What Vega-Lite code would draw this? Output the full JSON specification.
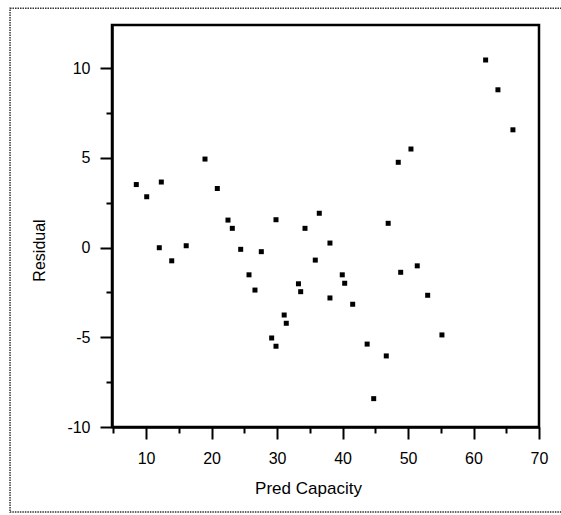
{
  "$schema": "https://vega.github.io/schema/vega-lite/v6.json",
  "autosize": {"type": "none"},
  "width": 427,
  "height": 402,
  "padding": {"left": 112, "top": 25, "right": 22, "bottom": 88},
  "background": "white",
  "config": {
    "view": {"stroke": "#000", "strokeWidth": 2.5},
    "font": "Liberation Sans"
  },
  "title": {
    "text": "Residual by Pred Capacity",
    "fontSize": 24,
    "fontWeight": "normal",
    "color": "#000",
    "anchor": "start",
    "frame": "group",
    "dx": 37,
    "offset": 3,
    "baseline": "bottom"
  },
  "resolve": {"axis": {"x": "independent", "y": "independent"}},
  "layer": [
    {
      "data": {"values": [{}]},
      "mark": {"type": "rect", "fill": null, "stroke": "#333", "strokeWidth": 1.5, "strokeDash": [1.5, 1], "clip": false},
      "encoding": {
        "x": {"datum": -10.77, "type": "quantitative", "scale": {"domain": [4.8, 70], "nice": false, "zero": false}, "axis": null},
        "x2": {"datum": 90},
        "y": {"datum": 13.34, "type": "quantitative", "scale": {"domain": [-10, 12.4], "nice": false, "zero": false}, "axis": null},
        "y2": {"datum": -14.74}
      }
    },
    {
      "data": {
        "values": [
          {"pred": 8.51, "resid": 3.51},
          {"pred": 10.10, "resid": 2.83},
          {"pred": 12.33, "resid": 3.65},
          {"pred": 12.02, "resid": -0.01},
          {"pred": 13.92, "resid": -0.74},
          {"pred": 16.13, "resid": 0.10},
          {"pred": 19.00, "resid": 4.93},
          {"pred": 20.88, "resid": 3.29},
          {"pred": 22.51, "resid": 1.53},
          {"pred": 23.17, "resid": 1.07},
          {"pred": 24.45, "resid": -0.10},
          {"pred": 25.72, "resid": -1.52},
          {"pred": 26.63, "resid": -2.37},
          {"pred": 27.60, "resid": -0.23},
          {"pred": 29.84, "resid": 1.55},
          {"pred": 29.18, "resid": -5.04},
          {"pred": 29.84, "resid": -5.50},
          {"pred": 31.09, "resid": -3.76},
          {"pred": 31.41, "resid": -4.22},
          {"pred": 33.27, "resid": -2.02},
          {"pred": 33.61, "resid": -2.46},
          {"pred": 34.27, "resid": 1.07},
          {"pred": 35.84, "resid": -0.70},
          {"pred": 36.45, "resid": 1.91},
          {"pred": 38.08, "resid": 0.25},
          {"pred": 38.08, "resid": -2.81},
          {"pred": 39.96, "resid": -1.52},
          {"pred": 40.33, "resid": -1.99},
          {"pred": 41.55, "resid": -3.16},
          {"pred": 43.76, "resid": -5.38},
          {"pred": 44.76, "resid": -8.42},
          {"pred": 46.68, "resid": -6.04},
          {"pred": 46.97, "resid": 1.35},
          {"pred": 48.51, "resid": 4.75},
          {"pred": 50.45, "resid": 5.49},
          {"pred": 48.88, "resid": -1.38},
          {"pred": 51.41, "resid": -1.02},
          {"pred": 53.00, "resid": -2.66},
          {"pred": 55.18, "resid": -4.87},
          {"pred": 61.85, "resid": 10.45},
          {"pred": 63.73, "resid": 8.79},
          {"pred": 66.02, "resid": 6.56}
        ]
      },
      "mark": {"type": "square", "size": 25, "filled": true, "color": "#000", "opacity": 1},
      "encoding": {
        "x": {
          "field": "pred",
          "type": "quantitative",
          "scale": {"domain": [4.8, 70], "nice": false, "zero": false},
          "axis": {
            "title": "Pred Capacity",
            "orient": "bottom",
            "values": [5, 10, 15, 20, 25, 30, 35, 40, 45, 50, 55, 60, 65, 70],
            "labelExpr": "datum.value % 10 === 0 ? '' + datum.value : ''",
            "tickSize": {"condition": {"test": "datum.value % 10 === 0", "value": 12}, "value": 6},
            "tickWidth": 2,
            "tickColor": "#000",
            "domainColor": "#000",
            "domainWidth": 2.5,
            "grid": false,
            "labelFontSize": 16,
            "labelColor": "#000",
            "labelPadding": 11,
            "labelFlush": false,
            "labelOverlap": false,
            "titleFontSize": 17,
            "titleFontWeight": "normal",
            "titleColor": "#000",
            "titleBaseline": "alphabetic",
            "titleX": 196,
            "titleY": 66
          }
        },
        "y": {
          "field": "resid",
          "type": "quantitative",
          "scale": {"domain": [-10, 12.4], "nice": false, "zero": false},
          "axis": {
            "title": "Residual",
            "orient": "left",
            "values": [-10, -7.5, -5, -2.5, 0, 2.5, 5, 7.5, 10],
            "labelExpr": "datum.value % 5 === 0 ? '' + datum.value : ''",
            "tickSize": {"condition": {"test": "datum.value % 5 === 0", "value": 12}, "value": 6},
            "tickWidth": 2,
            "tickColor": "#000",
            "domainColor": "#000",
            "domainWidth": 2.5,
            "grid": false,
            "labelFontSize": 16,
            "labelColor": "#000",
            "labelPadding": 10,
            "labelFlush": false,
            "labelOverlap": false,
            "titleFontSize": 16,
            "titleFontWeight": "normal",
            "titleColor": "#000",
            "titleBaseline": "alphabetic",
            "titleX": -68,
            "titleY": 225
          }
        }
      }
    }
  ]
}
